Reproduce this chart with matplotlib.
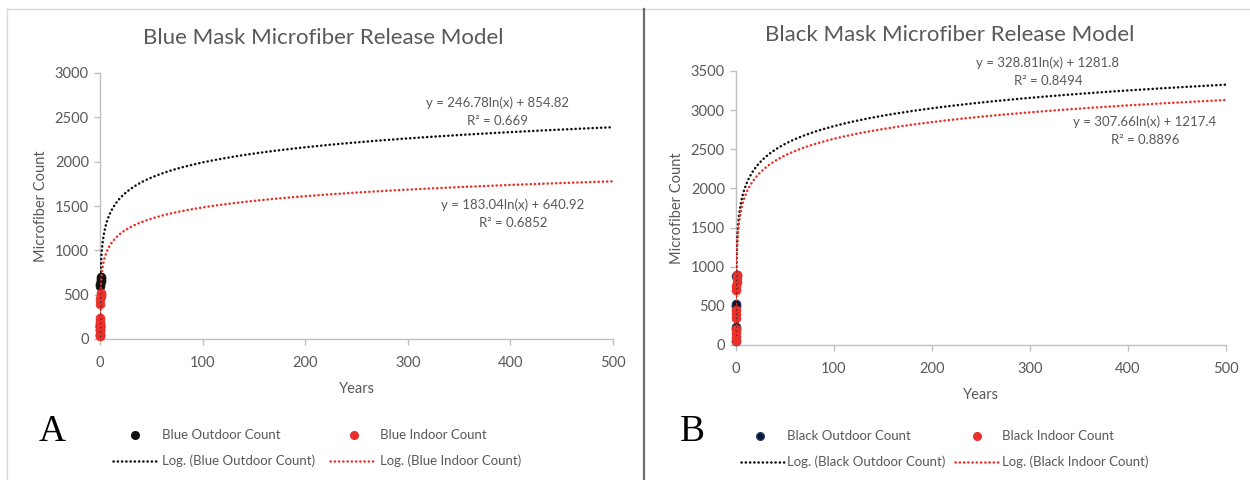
import numpy as np
import matplotlib
matplotlib.use("Agg")
import matplotlib.pyplot as plt
from matplotlib.lines import Line2D

# ---------------- data ----------------
blue_out_x = [0.03, 0.05, 0.08, 0.12, 0.2, 0.3, 0.4, 0.5, 0.6, 0.7]
blue_out_y = [50, 100, 130, 150, 170, 600, 620, 650, 680, 700]
blue_in_x = [0.03, 0.05, 0.08, 0.12, 0.2, 0.25, 0.3, 0.4, 0.5, 0.6, 0.7]
blue_in_y = [30, 60, 100, 150, 200, 240, 400, 450, 480, 500, 520]
black_out_x = [0.03, 0.06, 0.1, 0.2, 0.3, 0.5, 0.7]
black_out_y = [50, 200, 230, 500, 520, 880, 900]
black_in_x = [0.03, 0.05, 0.08, 0.1, 0.15, 0.2, 0.3, 0.4, 0.5, 0.6, 0.7, 0.8]
black_in_y = [50, 100, 150, 200, 350, 400, 450, 700, 750, 800, 850, 900]

# trendline coefficients y = a*ln(x) + b and R^2
blue_out_fit = (246.78, 854.82, 0.669)
blue_in_fit = (183.04, 640.92, 0.6852)
black_out_fit = (328.81, 1281.8, 0.8494)
black_in_fit = (307.66, 1217.4, 0.8896)

x_max = 500
blue_yticks = [0, 500, 1000, 1500, 2000, 2500, 3000]
black_yticks = [0, 500, 1000, 1500, 2000, 2500, 3000, 3500]
xticks = [0, 100, 200, 300, 400, 500]

# ---------------- style ----------------
W, H = 1250, 480
fig = plt.figure(figsize=(W / 100, H / 100), dpi=100)
FONT = ['Lato', 'DejaVu Sans']
plt.rcParams['font.family'] = FONT
GRAY = '#595959'
AX = '#bfbfbf'
RED = '#e8312a'
BLK = '#111111'
NAVY = '#0b1830'


def fx(px):
    return px / W


def fy(py):
    return 1 - py / H


# background frames
fig.add_artist(Line2D([fx(7), fx(1250)], [fy(9), fy(9)], color='#d9d9d9', lw=1))
fig.add_artist(Line2D([fx(7), fx(7)], [fy(9), fy(480)], color='#d9d9d9', lw=1))
fig.add_artist(Line2D([fx(644), fx(644)], [fy(9), fy(480)], color='#6e6e6e', lw=1.6))


def trend(a, b, xs):
    xs = np.asarray(xs)
    return a * np.log(xs) + b


def panel(rect_px, yticks, ymax, out_x, out_y, in_x, in_y, out_fit, in_fit,
          out_color, out_edge, title, title_xy, eqs):
    l, t, r, b = rect_px
    ax = fig.add_axes([fx(l), fy(b), fx(r - l), (b - t) / H])
    ax.set_xlim(0, x_max)
    ax.set_ylim(0, ymax)
    ax.scatter(out_x, out_y, s=40, color=out_color, edgecolors=out_edge,
               linewidths=0.6, zorder=3, clip_on=False)
    ax.scatter(in_x, in_y, s=40, color=RED, edgecolors=RED, linewidths=0.6,
               zorder=4, clip_on=False)
    for xs, fit, col in ((out_x, out_fit, BLK), (in_x, in_fit, RED)):
        xx = np.geomspace(min(xs), x_max, 600)
        yy = trend(fit[0], fit[1], xx)
        ax.plot(xx, yy, linestyle=(0, (0.1, 1.6)), dash_capstyle='round',
                color=col, lw=1.8, zorder=5)
    for s in ('top', 'right'):
        ax.spines[s].set_visible(False)
    for s in ('left', 'bottom'):
        ax.spines[s].set_color(AX)
        ax.spines[s].set_linewidth(1)
    ax.set_xticks(xticks)
    ax.set_yticks(yticks)
    ax.tick_params(colors=AX, labelcolor=GRAY, labelsize=10.5, length=4,
                   width=1, direction='out')
    ax.tick_params(axis='x', pad=8)
    ax.tick_params(axis='y', pad=4)
    ax.set_xlabel('Years', color=GRAY, fontsize=10.5, labelpad=9)
    ax.set_ylabel('Microfiber Count', color=GRAY, fontsize=10.5, labelpad=5)
    fig.text(fx(title_xy[0]), fy(title_xy[1]), title, ha='center', va='center',
             color=GRAY, fontsize=16)
    for (xp, yp, txt) in eqs:
        fig.text(fx(xp), fy(yp), txt, ha='center', va='center',
                 color=GRAY, fontsize=9.5)
    return ax


def eq_text(fit):
    return 'y = {}ln(x) + {}'.format(fit[0], fit[1]), 'R² = {}'.format(fit[2])


e1, r1 = eq_text(blue_out_fit)
e2, r2 = eq_text(blue_in_fit)
panel((100, 73, 613, 339), blue_yticks, 3000, blue_out_x, blue_out_y,
      blue_in_x, blue_in_y, blue_out_fit, blue_in_fit, BLK, BLK,
      'Blue Mask Microfiber Release Model', (323, 38),
      [(498, 103, e1), (498, 121, r1), (513, 205, e2), (513, 223, r2)])

e3, r3 = eq_text(black_out_fit)
e4, r4 = eq_text(black_in_fit)
panel((736, 71, 1226, 345), black_yticks, 3500, black_out_x, black_out_y,
      black_in_x, black_in_y, black_out_fit, black_in_fit, NAVY, '#1f3a6b',
      'Black Mask Microfiber Release Model', (950, 35),
      [(1048, 63, e3), (1048, 81, r3), (1145, 122, e4), (1145, 140, r4)])


# legends (manual, Excel-style)
def legend_row_marker(xm, y, fc, ec):
    fig.add_artist(Line2D([fx(xm)], [fy(y)], marker='o', markersize=5.5,
                          color=fc, markeredgecolor=ec, linestyle='none'))


def legend_row_line(x0, x1, y, col):
    fig.add_artist(Line2D([fx(x0), fx(x1)], [fy(y), fy(y)], color=col, lw=1.8,
                          linestyle=(0, (0.1, 1.6)), dash_capstyle='round'))


def ltext(x, y, s):
    fig.text(fx(x), fy(y), s, ha='left', va='center', color=GRAY, fontsize=9.5)


# panel A
legend_row_marker(135, 435, BLK, BLK)
ltext(162, 435, 'Blue Outdoor Count')
legend_row_marker(354, 435, RED, RED)
ltext(380, 435, 'Blue Indoor Count')
legend_row_line(113, 158, 461, BLK)
ltext(162, 461, 'Log. (Blue Outdoor Count)')
legend_row_line(330, 375, 461, RED)
ltext(380, 461, 'Log. (Blue Indoor Count)')
fig.text(fx(52), fy(432), 'A', ha='center', va='center', fontsize=27,
         family=['Liberation Serif', 'DejaVu Serif'], color='black')

# panel B
legend_row_marker(760, 436, NAVY, '#1f3a6b')
ltext(787, 436, 'Black Outdoor Count')
legend_row_marker(977, 436, RED, RED)
ltext(1002, 436, 'Black Indoor Count')
legend_row_line(741, 784, 462, BLK)
ltext(787, 462, 'Log. (Black Outdoor Count)')
legend_row_line(955, 999, 462, RED)
ltext(1002, 462, 'Log. (Black Indoor Count)')
fig.text(fx(692), fy(432), 'B', ha='center', va='center', fontsize=27,
         family=['Liberation Serif', 'DejaVu Serif'], color='black')

fig.savefig('out.png', dpi=100, facecolor='white')
